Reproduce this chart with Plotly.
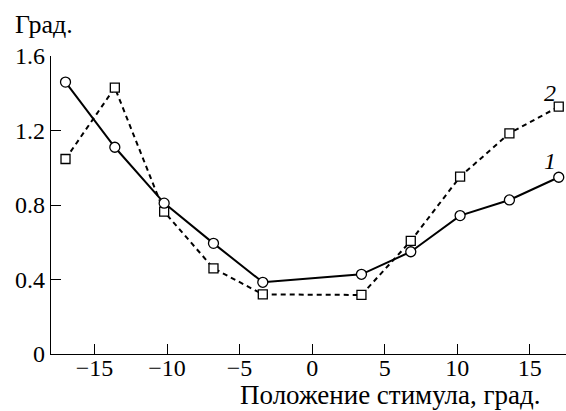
import plotly.graph_objects as go

x_vals = [-17, -13.6, -10.2, -6.8, -3.4, 3.4, 6.8, 10.2, 13.6, 17]
series1 = [1.46, 1.11, 0.81, 0.594, 0.385, 0.428, 0.549, 0.743, 0.827, 0.949]
series2 = [1.047, 1.43, 0.764, 0.46, 0.32, 0.317, 0.607, 0.952, 1.185, 1.328]
x_ticks = [-15, -10, -5, 0, 5, 10, 15]
y_ticks = [0, 0.4, 0.8, 1.2, 1.6]
y_tick_labels = ["0", "0.4", "0.8", "1.2", "1.6"]

FONT = "'Liberation Serif', 'DejaVu Serif', 'Times New Roman', serif"

fig = go.Figure()
fig.add_trace(go.Scatter(
    x=x_vals, y=series2, mode="lines+markers",
    line=dict(color="black", width=2, dash="5px,4px"),
    marker=dict(symbol="square", size=9, color="white",
                line=dict(color="black", width=1.3)),
    showlegend=False, cliponaxis=False))
fig.add_trace(go.Scatter(
    x=x_vals, y=series1, mode="lines+markers",
    line=dict(color="black", width=2),
    marker=dict(symbol="circle", size=10, color="white",
                line=dict(color="black", width=1.3)),
    showlegend=False, cliponaxis=False))

fig.update_layout(
    width=566, height=411,
    margin=dict(l=51, r=0, t=56, b=57),
    paper_bgcolor="white", plot_bgcolor="white",
    font=dict(family=FONT, size=24, color="black"),
    xaxis=dict(range=[-18, 17.5], tickvals=x_ticks, ticks="inside",
               ticklen=10, tickwidth=1.3, tickcolor="black",
               showline=True, linecolor="black", linewidth=1.3,
               showgrid=False, zeroline=False, ticklabelstandoff=-8,
               tickfont=dict(family=FONT, size=24)),
    yaxis=dict(range=[0, 1.6], tickvals=y_ticks, ticktext=y_tick_labels,
               ticks="inside", ticklen=10, tickwidth=1.3, tickcolor="black",
               showline=True, linecolor="black", linewidth=1.3,
               showgrid=False, zeroline=False,
               tickfont=dict(family=FONT, size=24)),
    annotations=[
        dict(text="Положение стимула, град.", xref="paper", yref="paper",
             x=0.955, y=-0.136, xanchor="right", yanchor="middle",
             showarrow=False, font=dict(family=FONT, size=27)),
        dict(text="Град.", xref="paper", yref="paper",
             x=-0.0738, y=1.106, xanchor="left", yanchor="middle",
             showarrow=False, font=dict(family=FONT, size=26)),
        dict(text="<i>2</i>", xref="x", yref="y", x=16.37, y=1.40,
             showarrow=False, font=dict(family=FONT, size=24)),
        dict(text="<i>1</i>", xref="x", yref="y", x=16.43, y=1.036,
             showarrow=False, font=dict(family=FONT, size=24)),
    ],
)

fig.write_html("out.html", config={"displayModeBar": False},
               post_script="document.body.style.margin='0';document.body.style.overflow='hidden';")
